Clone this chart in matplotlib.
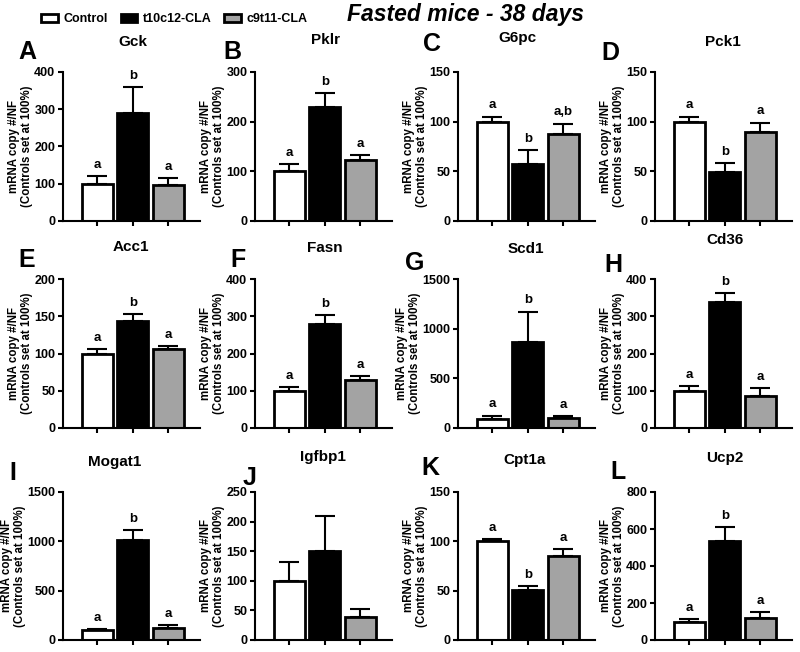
import numpy as np
import matplotlib
matplotlib.use("Agg")
import matplotlib.pyplot as plt

plt.rcParams['font.family'] = ['Liberation Sans', 'DejaVu Sans']
plt.rcParams['font.weight'] = 'bold'

# data (% of control)
genes = ['Gck', 'Pklr', 'G6pc', 'Pck1', 'Acc1', 'Fasn',
         'Scd1', 'Cd36', 'Mogat1', 'Igfbp1', 'Cpt1a', 'Ucp2']
panel_letters = ['A', 'B', 'C', 'D', 'E', 'F', 'G', 'H', 'I', 'J', 'K', 'L']
groups = ['Control', 't10c12-CLA', 'c9t11-CLA']

control = [100, 100, 100, 100, 100, 100, 95, 98, 97, 100, 100, 100]
t10c12 = [290, 230, 57, 49, 144, 280, 865, 337, 1015, 150, 51, 537]
c9t11 = [97, 122, 88, 90, 106, 128, 101, 87, 118, 39, 85, 120]

control_err = [20, 14, 5, 5, 6, 9, 30, 14, 13, 32, 2, 15]
t10c12_err = [70, 28, 14, 9, 9, 24, 307, 25, 100, 59, 4, 75]
c9t11_err = [18, 10, 10, 9, 4, 11, 21, 21, 37, 14, 7, 30]

sig = [('a', 'b', 'a'), ('a', 'b', 'a'), ('a', 'b', 'a,b'), ('a', 'b', 'a'),
       ('a', 'b', 'a'), ('a', 'b', 'a'), ('a', 'b', 'a'), ('a', 'b', 'a'),
       ('a', 'b', 'a'), ('', '', ''), ('a', 'b', 'a'), ('a', 'b', 'a')]

y_max = [400, 300, 150, 150, 200, 400, 1500, 400, 1500, 250, 150, 800]
y_step = [100, 100, 50, 50, 50, 100, 500, 100, 500, 50, 50, 200]

bar_colors = ['white', 'black', '#a3a3a3']

W, H = 800, 652
fig = plt.figure(figsize=(8, 6.52), dpi=100)

col_left = [63, 255, 458, 655]
row_top = [72, 279, 492]
row_bottom = [221, 428, 640]
ax_w = 137

# panel letter / gene title positions in pixels
letter_xy = [(27, 52), (232, 52), (432, 44), (610, 53),
             (27, 260), (238, 260), (415, 263), (613, 265),
             (13, 473), (250, 478), (430, 468), (618, 472)]
title_xy = [(133, 42), (325, 40), (517, 38), (723, 42),
            (131, 247), (325, 248), (526, 249), (725, 240),
            (115, 462), (323, 457), (525, 460), (725, 458)]

handles = None
for i in range(12):
    r, c = divmod(i, 4)
    left = col_left[c] / W
    bottom = 1 - row_bottom[r] / H
    height = (row_bottom[r] - row_top[r]) / H
    ax = fig.add_axes([left, bottom, ax_w / W, height])

    means = [control[i], t10c12[i], c9t11[i]]
    errs = [control_err[i], t10c12_err[i], c9t11_err[i]]
    x = np.arange(3)
    bars = ax.bar(x, means, width=0.88, color=bar_colors,
                  edgecolor='black', linewidth=2, zorder=2)
    ax.errorbar(x, means, yerr=[np.zeros(3), errs], fmt='none',
                ecolor='black', elinewidth=1.5, capsize=7, capthick=1.5, zorder=1)
    if handles is None:
        handles = bars
    for j in range(3):
        if sig[i][j]:
            ax.text(x[j], means[j] + errs[j] + y_max[i] * 0.035, sig[i][j],
                    ha='center', va='bottom', fontsize=9.5, fontweight='bold')

    ax.set_xlim(-0.97, 2.9)
    ax.set_ylim(0, y_max[i])
    ax.set_yticks(np.arange(0, y_max[i] + 1, y_step[i]))
    ax.set_xticks(x)
    ax.set_xticklabels([])
    ax.spines['top'].set_visible(False)
    ax.spines['right'].set_visible(False)
    ax.spines['left'].set_linewidth(1.5)
    ax.spines['bottom'].set_linewidth(1.5)
    ax.tick_params(axis='both', width=1.5, length=3.5, labelsize=9, pad=2)
    for lab in ax.get_yticklabels():
        lab.set_fontweight('bold')
    ax.set_ylabel('mRNA copy #/NF\n(Controls set at 100%)', fontsize=8.3,
                  fontweight='bold', labelpad=1, linespacing=1.1)

    fig.text(letter_xy[i][0] / W, 1 - letter_xy[i][1] / H, panel_letters[i],
             fontsize=18, fontweight='bold', ha='center', va='center')
    fig.text(title_xy[i][0] / W, 1 - title_xy[i][1] / H, genes[i],
             fontsize=11, fontweight='bold', ha='center', va='center')

fig.legend(handles, groups, loc='center left', bbox_to_anchor=(30 / W, 1 - 19 / H),
           ncol=3, frameon=False, handlelength=1.3, handleheight=0.6,
           columnspacing=1.0, handletextpad=0.5, prop={'weight': 'bold', 'size': 9})

fig.text(465 / W, 1 - 14 / H, 'Fasted mice - 38 days', fontsize=16.5,
         fontweight='bold', fontstyle='italic', ha='center', va='center')

fig.savefig('out.png', dpi=100)
